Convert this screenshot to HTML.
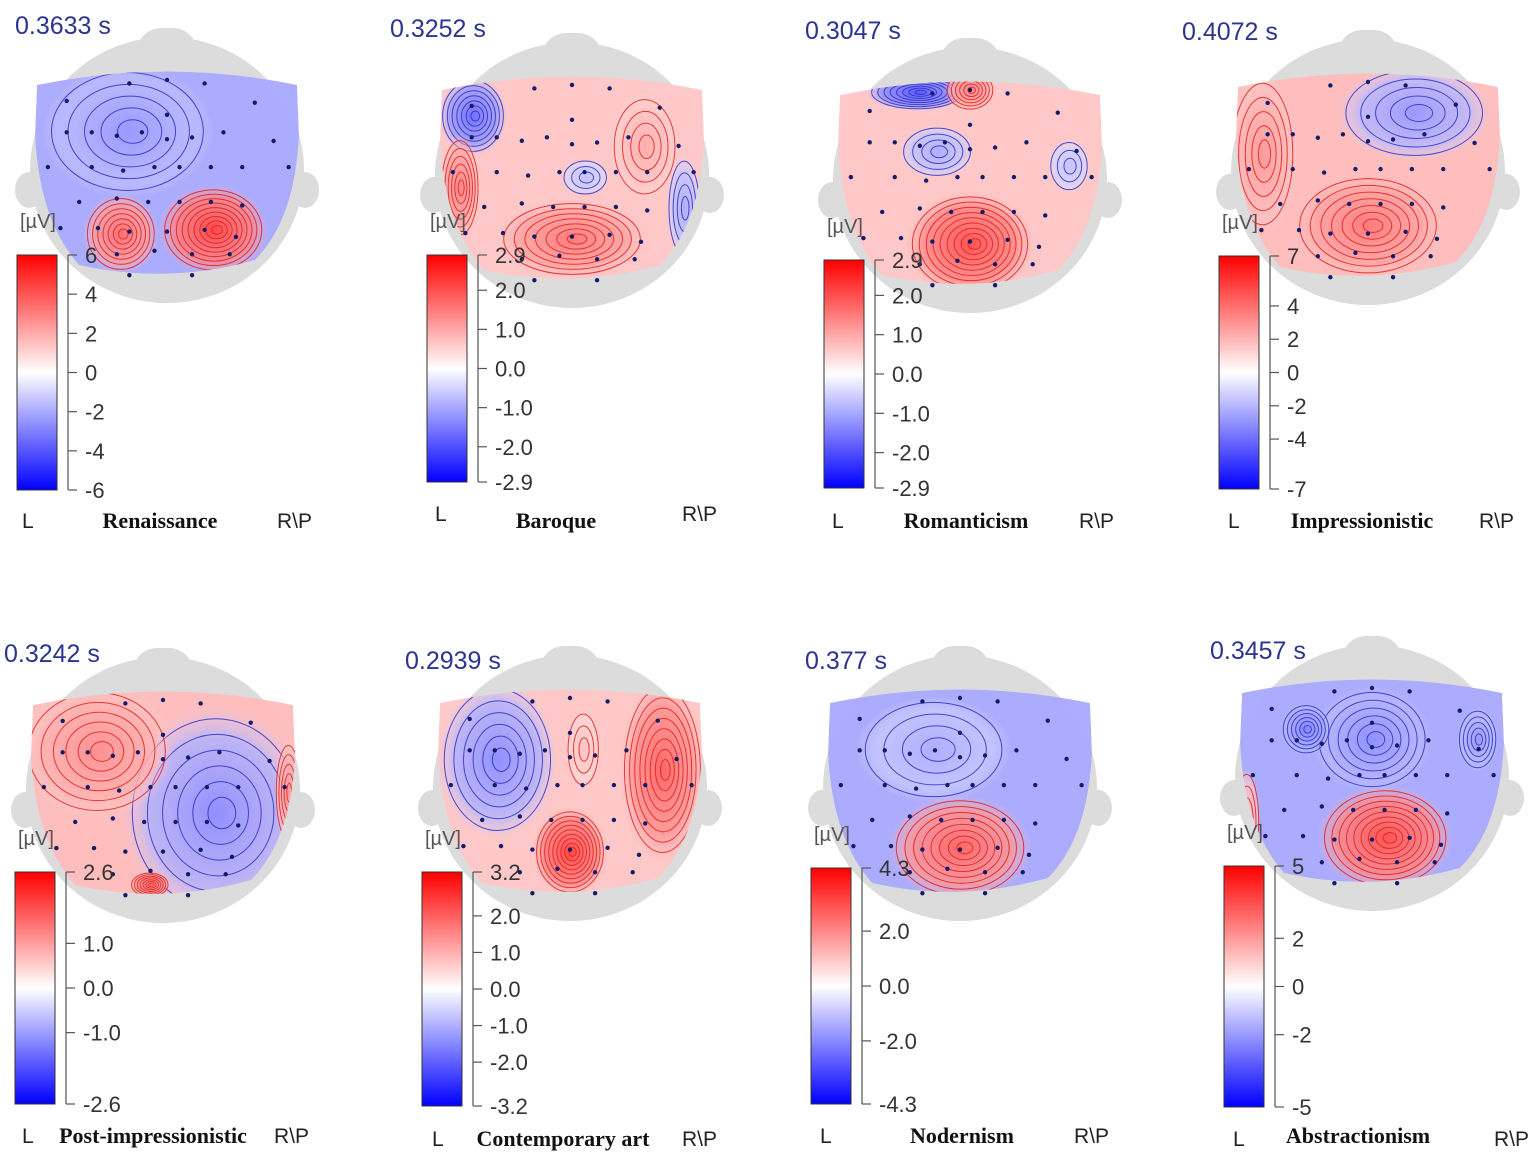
<!DOCTYPE html>
<html><head><meta charset="utf-8"><style>
html,body{margin:0;padding:0;background:#fff;width:1535px;height:1155px;overflow:hidden}
svg{display:block}
</style></head><body>
<svg id="fig" width="1535" height="1155" viewBox="0 0 1535 1155" xmlns="http://www.w3.org/2000/svg"></svg>
<script>
// ---- data ----
const titles = ["Renaissance","Baroque","Romanticism","Impressionistic","Post-impressionistic","Contemporary art","Nodernism","Abstractionism"];
const times = ["0.3633 s","0.3252 s","0.3047 s","0.4072 s","0.3242 s","0.2939 s","0.377 s","0.3457 s"];
const tickLabels = [
 ["6","4","2","0","-2","-4","-6"],
 ["2.9","2.0","1.0","0.0","-1.0","-2.0","-2.9"],
 ["2.9","2.0","1.0","0.0","-1.0","-2.0","-2.9"],
 ["7","4","2","0","-2","-4","-7"],
 ["2.6","1.0","0.0","-1.0","-2.6"],
 ["3.2","2.0","1.0","0.0","-1.0","-2.0","-3.2"],
 ["4.3","2.0","0.0","-2.0","-4.3"],
 ["5","2","0","-2","-5"]];
// base (normalized) potential per map
const baseValues = [-0.45,0.3,0.3,0.35,0.35,0.3,-0.45,-0.45];
// blobs: [u, v, ru, rv, value]  (u in -1..1 across map, v in 0..1 down map)
const blobs = [
 [[-0.3,0.3,0.5,0.25,-0.5],[0.35,0.78,0.32,0.17,0.9],[-0.35,0.8,0.22,0.15,0.7]],
 [[-0.75,0.2,0.2,0.15,-0.7],[-0.85,0.55,0.12,0.2,0.6],[0.1,0.5,0.14,0.07,-0.3],[0.0,0.8,0.45,0.15,0.65],[0.55,0.35,0.2,0.2,0.4],[0.85,0.65,0.1,0.2,-0.4]],
 [[-0.4,0.06,0.3,0.07,-0.8],[0.0,0.05,0.15,0.08,0.6],[-0.25,0.35,0.22,0.1,-0.4],[0.75,0.42,0.12,0.1,-0.3],[0.0,0.8,0.38,0.2,0.85]],
 [[0.35,0.2,0.45,0.18,-0.5],[0.0,0.75,0.45,0.2,0.65],[-0.8,0.4,0.2,0.3,0.5]],
 [[0.4,0.6,0.55,0.4,-0.55],[-0.5,0.3,0.45,0.25,0.55],[-0.1,0.95,0.12,0.05,0.7],[0.95,0.5,0.08,0.2,0.5]],
 [[-0.55,0.35,0.35,0.3,-0.55],[0.0,0.8,0.22,0.17,0.9],[0.7,0.4,0.25,0.35,0.75],[0.1,0.3,0.1,0.15,0.3]],
 [[0.0,0.78,0.42,0.2,0.75],[-0.2,0.3,0.45,0.2,-0.4]],
 [[0.1,0.78,0.4,0.2,0.85],[0.0,0.3,0.35,0.2,-0.55],[-0.5,0.25,0.15,0.1,-0.6],[0.8,0.3,0.12,0.12,-0.5],[-0.95,0.7,0.08,0.2,0.4]]];
// ---- layout ----
const layout = [
 {hx:167,mt:70,cbx:17,cbt:255,cbb:490,tx:160,ty:520,timex:15,timey:15,lx:22,rx:295,ly:520},
 {hx:572,mt:75,cbx:427,cbt:255,cbb:482,tx:556,ty:520,timex:390,timey:18,lx:435,rx:700,ly:513},
 {hx:970,mt:80,cbx:824,cbt:260,cbb:488,tx:966,ty:520,timex:805,timey:20,lx:832,rx:1097,ly:520},
 {hx:1368,mt:72,cbx:1219,cbt:256,cbb:489,tx:1362,ty:520,timex:1182,timey:21,lx:1228,rx:1497,ly:520},
 {hx:163,mt:690,cbx:15,cbt:872,cbb:1104,tx:153,ty:1135,timex:4,timey:643,lx:22,rx:292,ly:1135},
 {hx:570,mt:688,cbx:422,cbt:872,cbb:1106,tx:563,ty:1138,timex:405,timey:650,lx:432,rx:700,ly:1138},
 {hx:960,mt:688,cbx:811,cbt:868,cbb:1104,tx:962,ty:1135,timex:805,timey:650,lx:820,rx:1092,ly:1135},
 {hx:1372,mt:678,cbx:1224,cbt:866,cbb:1107,tx:1358,ty:1135,timex:1210,timey:640,lx:1233,rx:1512,ly:1138}];
const electrodes=[[-0.3,0.02],[0,0.0],[0.3,0.02],[-0.8,0.12],[0,0.2],[0.7,0.13],[-0.6,0.3],[-0.4,0.32],[-0.2,0.3],[0,0.34],[0.2,0.33],[0.45,0.3],[-0.95,0.5],[-0.6,0.5],[-0.35,0.52],[-0.1,0.5],[0.1,0.5],[0.35,0.5],[0.6,0.5],[0.97,0.5],[-0.7,0.7],[-0.4,0.68],[-0.15,0.7],[0.1,0.7],[0.35,0.7],[0.6,0.72],[-0.85,0.85],[-0.55,0.85],[-0.3,0.87],[0,0.87],[0.3,0.86],[0.55,0.9],[-0.4,1.0],[-0.1,0.98],[0.2,1.0],[0.5,1.0],[-0.3,1.12],[0.2,1.12],[-0.8,0.3],[0.85,0.35]];
const NS="http://www.w3.org/2000/svg";
const svg=document.getElementById('fig');
function mk(tag,attrs,parent){const e=document.createElementNS(NS,tag);for(const k in attrs)e.setAttribute(k,attrs[k]);(parent||svg).appendChild(e);return e;}
function col(v,a){v=Math.max(-1,Math.min(1,v));let r,g,b;if(v>=0){r=255;g=b=Math.round(255*(1-v));}else{b=255;r=g=Math.round(255*(1+v));}return `rgba(${r},${g},${b},${a})`;}
const defs=mk('defs',{});
const MW=132, MH=205;
layout.forEach((L,i)=>{
  const g=mk('g',{});
  
  
  const head=mk('g',{},g);
  
  
  mk('rect',{x:L.hx-30,y:L.mt-42,width:60,height:60,rx:24,fill:'#dcdcdc'},head);
  mk('ellipse',{cx:L.hx-138,cy:L.mt+120,rx:14,ry:18,fill:'#dcdcdc'},head);
  mk('ellipse',{cx:L.hx+138,cy:L.mt+120,rx:14,ry:18,fill:'#dcdcdc'},head);
  mk('ellipse',{cx:L.hx,cy:L.mt+100,rx:137,ry:133,fill:'#dcdcdc'},head);
  const x0=L.hx,y0=L.mt;
  const d=`M${x0-130},${y0+15} Q${x0},${y0-12} ${x0+130},${y0+15} L${x0+132},${y0+65} Q${x0+128},${y0+150} ${x0+88},${y0+190} Q${x0},${y0+215} ${x0-88},${y0+195} Q${x0-128},${y0+150} ${x0-132},${y0+65} Z`;
  const cp=mk('clipPath',{id:'clip'+i},defs);mk('path',{d:d},cp);
  const map=mk('g',{'clip-path':`url(#clip${i})`},g);
  
  
  mk('path',{d:d,fill:col(baseValues[i]*0.75,0.95)},map);
  blobs[i].forEach((b,j)=>{
    const cx=x0+b[0]*MW, cy=y0+b[1]*MH, rx=b[2]*MW, ry=b[3]*MH;
    const gid='g'+i+'_'+j;
    const rg=mk('radialGradient',{id:gid},defs);
    mk('stop',{offset:'0','stop-color':col(b[4]*0.8,1)},rg);
    mk('stop',{offset:'0.7','stop-color':col(b[4]*0.55,0.85)},rg);
    mk('stop',{offset:'1','stop-color':col(b[4]*0.35,0)},rg);
    const e=mk('ellipse',{cx:cx,cy:cy,rx:rx*1.3,ry:ry*1.3,fill:`url(#${gid})`},map);
    
    
    const n=Math.max(3,Math.round(Math.abs(b[4])*10));
    const stroke=b[4]>0?'#e0201c':'#2a30c8';
    for(let k=1;k<=n;k++){
      const f=k/n;
      mk('ellipse',{cx:cx+(1-f)*rx*0.1,cy:cy,rx:rx*f*1.15,ry:ry*f*1.15,fill:'none',stroke:stroke,'stroke-width':1,'stroke-opacity':0.85},map);
    }
  });
  electrodes.forEach(p=>{mk('circle',{cx:x0+p[0]*MW*0.95,cy:y0+10+p[1]*MH*0.85,r:2.2,fill:'#141c6a'},g);});
  const t=mk('text',{x:L.timex,y:L.timey+19,'font-family':'Liberation Sans, sans-serif','font-size':25,fill:'#2b3590'},g);
  t.textContent=times[i];
  
  
  const u=mk('text',{x:L.cbx+3,y:L.cbt-27,'font-family':'Liberation Sans, sans-serif','font-size':20,fill:'#555'},g);
  u.textContent='[µV]';
  
  
  const cg=mk('linearGradient',{id:'cb'+i,x1:0,y1:0,x2:0,y2:1},defs);
  [['0','#ff0000'],['0.5','#ffffff'],['1','#0000ff']].forEach(s=>mk('stop',{offset:s[0],'stop-color':s[1]},cg));
  const cb=mk('rect',{x:L.cbx,y:L.cbt,width:40,height:L.cbb-L.cbt,fill:`url(#cb${i})`,stroke:'#333','stroke-width':1},g);
  
  
  const ax=L.cbx+51;
  mk('line',{x1:ax,y1:L.cbt,x2:ax,y2:L.cbb,stroke:'#555','stroke-width':1.2},g);
  const vals=tickLabels[i].map(Number), vmax=vals[0], vmin=vals[vals.length-1];
  const yS=v=>L.cbt+(vmax-v)/(vmax-vmin)*(L.cbb-L.cbt);
  tickLabels[i].forEach(lab=>{
    const y=yS(Number(lab));
    mk('line',{x1:ax,y1:y,x2:ax+9,y2:y,stroke:'#555','stroke-width':1.2},g);
    const tl=mk('text',{x:ax+17,y:y+8,'font-family':'Liberation Sans, sans-serif','font-size':22,fill:'#333'},g);
    tl.textContent=lab;
    
    
  });
  const l=mk('text',{x:L.lx,y:L.ly+8,'font-family':'Liberation Sans, sans-serif','font-size':21,fill:'#222'},g);
  l.textContent='L';
  
  
  const ti=mk('text',{x:L.tx,y:L.ty+8,'text-anchor':'middle','font-family':'Liberation Serif, serif','font-weight':'bold','font-size':22,fill:'#111'},g);
  ti.textContent=titles[i];
  
  
  const r=mk('text',{x:L.rx-18,y:L.ly+8,'font-family':'Liberation Sans, sans-serif','font-size':21,fill:'#222'},g);
  r.textContent='R\\P';
  
  
});
</script>
</body></html>
